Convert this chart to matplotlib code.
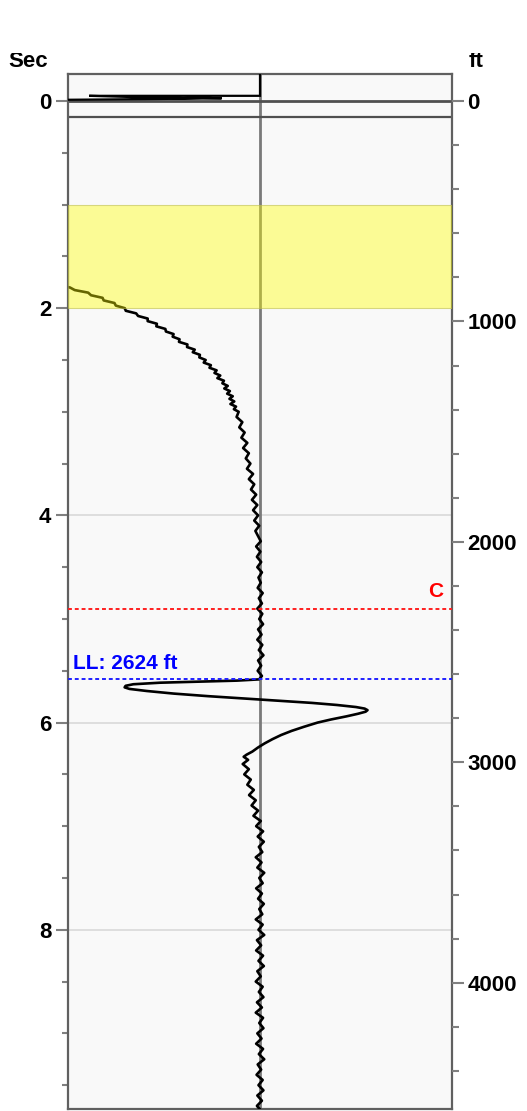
import matplotlib
matplotlib.use("Agg")
import matplotlib.pyplot as plt
from matplotlib.patches import Rectangle
from matplotlib.ticker import MultipleLocator

plt.rcParams['font.family'] = ['Liberation Sans', 'DejaVu Sans']

# ---------------- data ----------------
sec_ticks = [0, 2, 4, 6, 8]
ft_ticks = [0, 1000, 2000, 3000, 4000]
ft_per_sec = 470.0

band_sec = (1.0, 2.0)          # yellow highlighted interval
c_line_sec = 4.90              # red marker "C"
ll_line_sec = 5.583            # blue marker "LL: 2624 ft"
ll_label = "LL: 2624 ft"
c_label = "C"
grid_sec = [4, 6, 8]

# header trace (top panel, above time zero)
head_sec = [-0.27, -0.050, -0.050, -0.040, -0.032, -0.028, -0.030, -0.026, -0.018, -0.012]
head_amp = [0.0, 0.0, -0.89, -0.70, -0.55, -0.40, -0.30, -0.20, -0.60, -1.00]

# main trace (time in sec, amplitude -1..1 across the track)
trace_sec = [
    1.78, 1.80, 1.825, 1.85, 1.875, 1.90, 1.925, 1.95, 1.975, 2.00, 2.025, 2.05, 2.075, 2.10,
    2.125, 2.15, 2.175, 2.20, 2.225, 2.25, 2.275, 2.30, 2.325, 2.35, 2.375, 2.40, 2.425, 2.45,
    2.475, 2.50, 2.525, 2.55, 2.575, 2.60, 2.625, 2.65, 2.675, 2.70, 2.725, 2.75, 2.775, 2.80,
    2.825, 2.85, 2.875, 2.90, 2.925, 2.95, 2.975, 3.00,
    3.05, 3.10, 3.15, 3.20, 3.25, 3.30, 3.35, 3.40, 3.45, 3.50, 3.55, 3.60, 3.65, 3.70,
    3.75, 3.80, 3.85, 3.90, 3.95, 4.00, 4.05, 4.10, 4.15, 4.20, 4.25, 4.30, 4.35, 4.40,
    4.45, 4.50, 4.55, 4.60, 4.65, 4.70, 4.75, 4.80, 4.85, 4.90, 4.95, 5.00, 5.05, 5.10,
    5.15, 5.20, 5.25, 5.30, 5.35, 5.40, 5.45, 5.50, 5.55, 5.583,
    5.595, 5.605, 5.615, 5.630, 5.645, 5.660, 5.675, 5.695, 5.720, 5.745, 5.770, 5.790,
    5.810, 5.830, 5.850, 5.865, 5.880, 5.895, 5.915, 5.940, 5.970, 6.00, 6.04, 6.08,
    6.12, 6.16, 6.20, 6.24, 6.28, 6.31, 6.33, 6.36, 6.40, 6.45, 6.50, 6.55, 6.60, 6.65,
    6.70, 6.75, 6.80, 6.85, 6.90, 6.95, 7.00, 7.05, 7.10, 7.15, 7.20, 7.25, 7.30, 7.35,
    7.40, 7.45, 7.50, 7.55, 7.60, 7.65, 7.70, 7.75, 7.80, 7.85, 7.90, 7.95, 8.00, 8.05,
    8.10, 8.15, 8.20, 8.25, 8.30, 8.35, 8.40, 8.45, 8.50, 8.55, 8.60, 8.65, 8.70, 8.75,
    8.80, 8.85, 8.90, 8.95, 9.00, 9.05, 9.10, 9.15, 9.20, 9.25, 9.30, 9.35, 9.40, 9.45,
    9.50, 9.55, 9.60, 9.65, 9.70, 9.75,
]
trace_amp = [
    -1.05, -0.99, -0.965, -0.895, -0.88, -0.82, -0.814, -0.758, -0.751, -0.704, -0.699, -0.645, -0.635, -0.585,
    -0.585, -0.537, -0.54, -0.493, -0.49, -0.45, -0.455, -0.419, -0.422, -0.378, -0.38, -0.34, -0.35, -0.313,
    -0.316, -0.283, -0.293, -0.256, -0.263, -0.226, -0.237, -0.207, -0.222, -0.188, -0.196, -0.168, -0.186, -0.157,
    -0.171, -0.142, -0.159, -0.134, -0.154, -0.125, -0.136, -0.111,
    -0.122, -0.092, -0.108, -0.080, -0.097, -0.066, -0.088, -0.058, -0.074, -0.050, -0.068, -0.036, -0.058, -0.030,
    -0.047, -0.020, -0.042, -0.014, -0.036, -0.010, -0.030, -0.004, -0.024, -0.010, 0.004, -0.020, 0.002, -0.016,
    0.006, -0.014, 0.010, -0.008, 0.004, -0.012, 0.014, -0.006, 0.010, -0.014, 0.012, -0.004, 0.016, -0.010,
    0.008, -0.014, 0.012, -0.006, 0.018, -0.010, 0.006, -0.012, 0.010, -0.005,
    -0.12, -0.32, -0.52, -0.66, -0.70, -0.705, -0.68, -0.59, -0.45, -0.27, -0.06, 0.11,
    0.27, 0.40, 0.50, 0.545, 0.56, 0.55, 0.51, 0.45, 0.37, 0.30, 0.23, 0.165,
    0.11, 0.065, 0.025, -0.010, -0.040, -0.070, -0.085, -0.062, -0.090, -0.058, -0.082, -0.048, -0.066, -0.032,
    -0.057, -0.022, -0.044, -0.010, -0.034, 0.004, -0.020, 0.016, -0.012, 0.020, -0.006, 0.012, -0.022, 0.008,
    -0.014, 0.022, -0.004, 0.014, -0.020, 0.010, -0.010, 0.020, -0.004, 0.012, -0.022, 0.014, -0.008, 0.022,
    -0.016, 0.006, -0.020, 0.016, -0.008, 0.020, -0.014, 0.004, -0.022, 0.014, -0.006, 0.018, -0.016, 0.010,
    -0.022, 0.016, -0.004, 0.018, -0.014, 0.008, -0.020, 0.016, -0.006, 0.022, -0.012, 0.006, -0.018, 0.014,
    -0.008, 0.018, -0.014, 0.010, -0.016, 0.008,
]

# ---------------- figure ----------------
W, H = 527, 1111
fig = plt.figure(figsize=(W / 100, H / 100), dpi=100)
fig.patch.set_facecolor('white')

ax_l, ax_r, ax_t, ax_b = 68, 452, 74, 1109
ax = fig.add_axes([ax_l / W, (H - ax_b) / H, (ax_r - ax_l) / W, (ax_b - ax_t) / H])
sec_top = -0.2606
sec_bot = 9.730
ax.set_ylim(sec_bot, sec_top)
ax.set_xlim(-1, 1)
ax.set_facecolor('#f9f9f9')

axis_grey = '#606060'
tick_grey = '#808080'
for s in ax.spines.values():
    s.set_color(axis_grey)
    s.set_linewidth(1.6)

# grid lines
for g in grid_sec:
    ax.axhline(g, color='#dcdcdc', lw=1.3, zorder=1)

# center line
ax.axvline(0, color='#7a7a7a', lw=2.0, zorder=2)

# header separators
ax.axhline(0, color='#505050', lw=2.0, zorder=2.5)
ax.axhline(0.155, color='#505050', lw=1.6, zorder=2.5)

# traces
ax.plot(head_amp, head_sec, color='black', lw=1.6, zorder=3, solid_joinstyle='miter')
ax.plot(trace_amp, trace_sec, color='black', lw=1.9, zorder=3)

# highlight band
ax.axhspan(band_sec[0], band_sec[1], facecolor=(1, 1, 0, 0.4), edgecolor=(0.75, 0.75, 0.3, 0.6),
           lw=0.8, zorder=4)

# marker lines
ax.axhline(c_line_sec, color='#ff2020', lw=1.4, dashes=(2, 1.5), zorder=5)
ax.axhline(ll_line_sec, color='#2020ff', lw=1.4, dashes=(2, 1.5), zorder=5)
ax.text(0.955, c_line_sec - 0.075, c_label, color='#ff0000', fontsize=15, fontweight='bold',
        ha='right', va='bottom', zorder=6)
ax.text(-0.975, ll_line_sec - 0.065, ll_label, color='#0000ff', fontsize=15, fontweight='bold',
        ha='left', va='bottom', zorder=6)

ax.set_xticks([])
ax.yaxis.set_ticks_position('left')
ax.set_yticks(sec_ticks)
ax.set_yticklabels([str(v) for v in sec_ticks])
ax.yaxis.set_minor_locator(MultipleLocator(0.5))
ax.tick_params(axis='y', which='major', direction='out', length=8.6, width=1.5, color=tick_grey,
               pad=3.5, labelsize=16)
ax.tick_params(axis='y', which='minor', direction='out', length=4.5, width=1.5, color=tick_grey)
for lab in ax.get_yticklabels():
    lab.set_fontweight('bold')

ax2 = ax.twinx()
ax2.set_ylim(sec_bot * ft_per_sec, sec_top * ft_per_sec)
ax2.set_yticks(ft_ticks)
ax2.set_yticklabels([str(v) for v in ft_ticks])
ax2.yaxis.set_minor_locator(MultipleLocator(200))
ax2.tick_params(axis='y', which='major', direction='out', length=8.6, width=1.5, color=tick_grey,
                pad=2.5, labelsize=16)
ax2.tick_params(axis='y', which='minor', direction='out', length=5, width=1.5, color=tick_grey)
for lab in ax2.get_yticklabels():
    lab.set_fontweight('bold')
for s in ax2.spines.values():
    s.set_visible(False)

# axis titles (clipped at top as in the reference)
fig.text(8 / W, 1 - 67 / H, 'Sec', ha='left', va='baseline', fontsize=16, fontweight='bold')
fig.text(469 / W, 1 - 67 / H, 'ft', ha='left', va='baseline', fontsize=16, fontweight='bold')
fig.patches.append(Rectangle((0, 1 - 53 / H), 1, 53 / H, transform=fig.transFigure,
                             facecolor='white', edgecolor='none', zorder=10))

fig.savefig('out.png', dpi=100, facecolor='white')
